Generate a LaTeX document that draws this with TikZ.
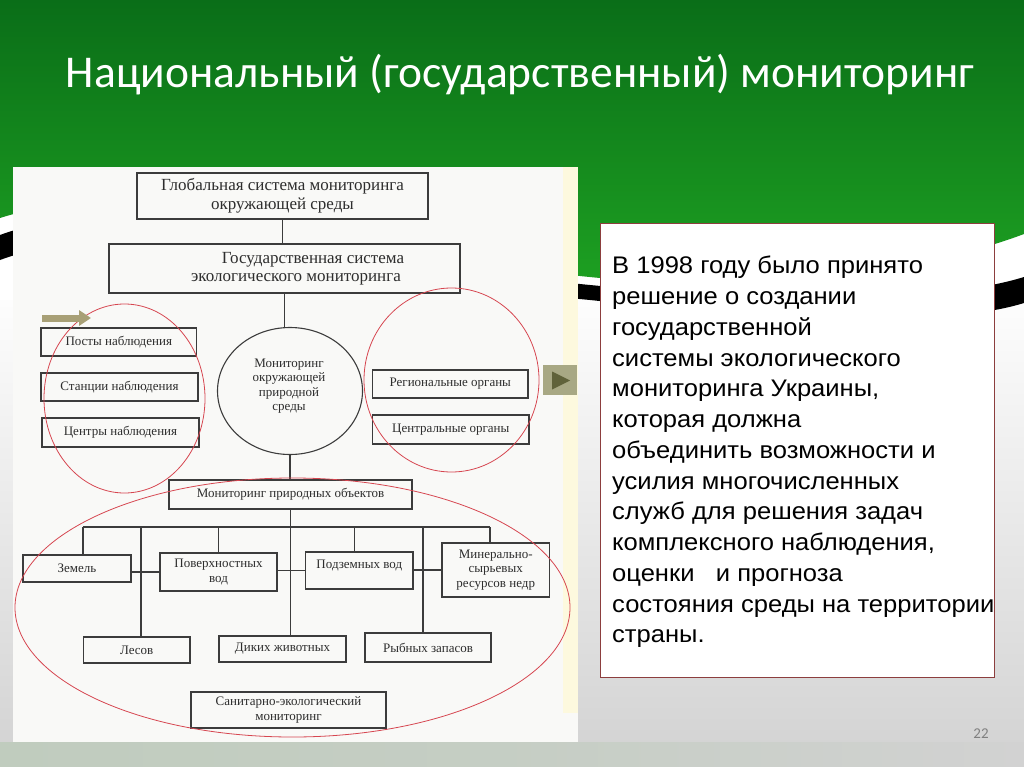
\documentclass[tikz,border=0pt]{standalone}
\usepackage{fontspec}
\setmainfont{Liberation Serif}
\newfontfamily\sansA[FakeStretch=1.065]{Liberation Sans}
\newfontfamily\titlefont{Carlito}
\usetikzlibrary{arrows.meta,shapes.geometric}
\definecolor{greenA}{RGB}{10,110,24}
\definecolor{greenB}{RGB}{30,162,34}
\definecolor{scanline}{RGB}{60,60,60}
\definecolor{scantext}{RGB}{45,45,45}
\definecolor{redring}{RGB}{214,70,80}
\definecolor{olive}{RGB}{168,160,118}
\definecolor{btnbg}{RGB}{168,168,132}
\definecolor{btntri}{RGB}{96,98,58}
\definecolor{tbborder}{RGB}{140,62,62}
\definecolor{paper}{RGB}{249,249,247}
\definecolor{cream}{RGB}{253,249,222}
\definecolor{bggray}{RGB}{210,210,210}
\definecolor{blurgreen}{RGB}{192,204,190}
\begin{document}
\begin{tikzpicture}[x=1pt,y=-1pt,
  sbox/.style={draw=scanline, line width=1.1pt, inner sep=0pt, text=scantext, align=center},
  bigt/.style={font=\fontsize{17}{18.5}\selectfont},
  smt/.style={font=\fontsize{13}{14.5}\selectfont},
  scanln/.style={draw=scanline, line width=1.1pt},
  ring/.style={draw=redring, line width=0.8pt}]
\useasboundingbox (0,0) rectangle (1024,767);
% background
\shade[top color=white, bottom color=bggray] (0,280) rectangle (1024,767);
\fill[white] (0,0) rectangle (1024,300);
\shade[left color=blurgreen, right color=bggray, middle color=blurgreen!70!bggray] (0,742) rectangle (1024,767);
% black band
\fill[black] (0,235) .. controls (150,180) and (350,262) .. (590,285) .. controls (800,305) and (950,300) .. (1024,277)
  -- (1024,303) .. controls (950,326) and (800,322) .. (590,300) .. controls (350,278) and (150,205) .. (0,260) -- cycle;
% green top
\shade[top color=greenA, bottom color=greenB] (0,0) -- (1024,0) -- (1024,234) .. controls (950,262) and (800,295) .. (600,278) .. controls (350,255) and (150,170) .. (0,218) -- cycle;
% title
\node[text=white, font=\titlefont\fontsize{45.5}{52}\selectfont] (title) at (520,75) {Национальный (государственный) мониторинг};
% diagram paper
\fill[paper] (13,167) rectangle (578,742);
\fill[cream] (563,167) rectangle (578,713);
% boxes
\node[sbox, bigt, minimum width=291, minimum height=46] (g1) at (282.5,196) {Глобальная система мониторинга\\окружающей среды};
\node[sbox, minimum width=351, minimum height=49] (g2) at (284.5,268.5) {};
\node[text=scantext, bigt, align=center, inner sep=0pt] (g2t) at (296,268.5) {\hspace*{34pt}Государственная система\\экологического мониторинга};
\node[sbox, ellipse, minimum width=145, minimum height=127] (circ) at (290,391) {};
\node[text=scantext, smt, align=center, inner sep=0pt] (circt) at (289,386) {Мониторинг\\окружающей\\природной\\среды};
\node[sbox, smt, minimum width=155.5, minimum height=28] (p1) at (118.75,342) {Посты наблюдения};
\node[sbox, smt, minimum width=157, minimum height=28] (p2) at (119.5,387) {Станции наблюдения};
\node[sbox, smt, minimum width=157, minimum height=29] (p3) at (120.5,432.5) {Центры наблюдения};
\node[sbox, smt, minimum width=155.4, minimum height=28] (r1) at (450.3,384) {Региональные органы};
\node[sbox, smt, minimum width=156.4, minimum height=29] (r2) at (450.8,429.5) {Центральные органы};
\node[sbox, smt, minimum width=243, minimum height=29] (m) at (290.5,494.5) {Мониторинг природных объектов};
\node[sbox, smt, minimum width=108, minimum height=27] (z) at (77,568.5) {Земель};
\node[sbox, smt, minimum width=117, minimum height=38] (pv) at (218.5,572) {Поверхностных\\вод};
\node[sbox, minimum width=107.4, minimum height=37] (pd) at (359.3,570.5) {};
\node[text=scantext, smt, inner sep=0pt] (pdt) at (359.3,565) {Подземных вод};
\node[sbox, smt, minimum width=107.5, minimum height=54] (mn) at (495.75,570) {Минерально-\\сырьевых\\ресурсов недр};
\node[sbox, smt, minimum width=106.5, minimum height=26] (l) at (136.75,650) {Лесов};
\node[sbox, smt, minimum width=127, minimum height=26] (d) at (282.5,649) {Диких животных};
\node[sbox, smt, minimum width=126, minimum height=29] (rb) at (428,647.5) {Рыбных запасов};
\node[sbox, smt, minimum width=195, minimum height=36] (s) at (288.5,710) {Санитарно-экологический\\мониторинг};
% connectors
\draw[scanln] (g1.south) -- (g1.south |- g2.north);
\draw[scanln] (g2.south) -- (g2.south |- circ.north);
\draw[scanln] (circ.south) -- (circ.south |- m.north);
\coordinate (busL) at (83,527);
\coordinate (busR) at (490,527);
\coordinate (bl) at (141,527);
\coordinate (bpd) at (354.5,527);
\coordinate (brb) at (423,527);
\draw[scanln] (busL) -- (busR);
\draw[scanln] (m.south) -- (m.south |- d.north);
\draw[scanln] (busL) -- (busL |- z.north);
\draw[scanln] (bl) -- (bl |- l.north);
\draw[scanln] (pv.north |- busL) -- (pv.north);
\draw[scanln] (bpd) -- (bpd |- pd.north);
\draw[scanln] (brb) -- (brb |- rb.north);
\draw[scanln] (busR) -- (busR |- mn.north);
\draw[scanln] (pv.west) -- (pv.west -| z.east);
\draw[scanln] (pd.west) -- (pd.west -| pv.east);
\draw[scanln] (mn.west) -- (mn.west -| pd.east);
% red rings
\draw[ring] (124.5,398.5) ellipse [x radius=80.5, y radius=94.5];
\draw[ring] (451.5,380) ellipse [x radius=87.5, y radius=92];
\draw[ring] (292.5,607.5) ellipse [x radius=277.5, y radius=129.5];
% olive arrow
\coordinate (oa1) at (42,318);
\coordinate (oa2) at (91,318);
\draw[olive, line width=7pt, -{Triangle[length=12pt,width=15pt]}] (oa1) -- (oa2);
% button
\node[fill=btnbg, minimum width=34, minimum height=30, inner sep=0pt] (btn) at (560,380) {};
\fill[btntri] (552,371.5) -- (552,389.5) -- (570,380.5) -- cycle;
% text box
\node[draw=tbborder, line width=1.1pt, fill=white, minimum width=394, minimum height=454, anchor=north west, inner sep=0pt] (tb) at (600,223) {};
\node[anchor=north west, inner sep=0pt, align=left, font=\sansA\fontsize{24}{30.75}\selectfont] (txt) at (612,256) {В 1998 году было принято\\
решение о создании\\
государственной\\
системы экологического\\
мониторинга Украины,\\
которая должна\\
объединить возможности и\\
усилия многочисленных\\
служб для решения задач\\
комплексного наблюдения,\\
оценки \ \ и прогноза\\
состояния среды на территории\\
страны.};
\node[text=gray, font=\titlefont\fontsize{15}{18}\selectfont] (pg) at (981,734) {22};
\end{tikzpicture}
\end{document}
